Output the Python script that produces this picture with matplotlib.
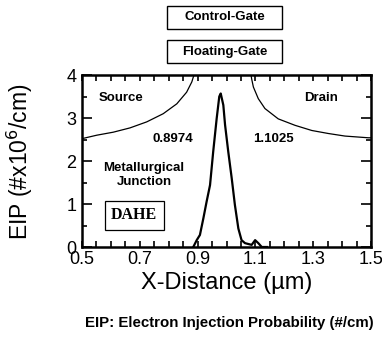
import matplotlib
matplotlib.use("Agg")
import matplotlib.pyplot as plt
from matplotlib.patches import Rectangle
from matplotlib.ticker import MultipleLocator, FixedLocator

plt.rcParams['font.family'] = ['Liberation Sans', 'DejaVu Sans']

# EIP peak curve
eip_x = [0.885, 0.897, 0.908, 0.92, 0.931, 0.943, 0.954, 0.966, 0.975, 0.980,
         0.989, 0.995, 1.006, 1.018, 1.029, 1.041, 1.052, 1.064, 1.087, 1.099,
         1.110, 1.122, 1.14]
eip_y = [0.0, 0.16, 0.28, 0.67, 1.05, 1.44, 2.22, 2.99, 3.50, 3.57,
         3.30, 2.84, 2.22, 1.60, 0.98, 0.43, 0.16, 0.09, 0.05, 0.16,
         0.09, 0.0, 0.0]

# Source / drain junction contours
src_x = [0.5, 0.551, 0.608, 0.666, 0.724, 0.781, 0.828, 0.862, 0.880, 0.885, 0.888]
src_y = [2.52, 2.60, 2.67, 2.77, 2.91, 3.10, 3.33, 3.60, 3.84, 3.95, 4.0]
drn_x = [1.085, 1.087, 1.093, 1.110, 1.133, 1.179, 1.237, 1.295, 1.352, 1.410, 1.491, 1.5]
drn_y = [4.0, 3.91, 3.72, 3.45, 3.22, 2.98, 2.83, 2.71, 2.64, 2.58, 2.54, 2.54]

xticks = [0.5, 0.7, 0.9, 1.1, 1.3, 1.5]
xticklabels = ['0.5', '0.7', '0.9', '1.1', '1.3', '1.5']
yticks = [0, 1, 2, 3, 4]

fig = plt.figure(figsize=(3.82, 3.38), dpi=100)
ax = fig.add_axes([0.2147, 0.2692, 0.7565, 0.5089])

ax.plot(src_x, src_y, color='black', lw=0.9)
ax.plot(drn_x, drn_y, color='black', lw=0.9)
ax.plot(eip_x, eip_y, color='black', lw=1.6)

ax.set_xlim(0.5, 1.5)
ax.set_ylim(0, 4)
ax.xaxis.set_major_locator(FixedLocator(xticks))
ax.set_xticklabels(xticklabels)
ax.xaxis.set_minor_locator(MultipleLocator(0.05))
ax.set_yticks(yticks)
ax.yaxis.set_minor_locator(MultipleLocator(0.5))
ax.tick_params(which='both', direction='in', top=True, right=True, labelsize=13,
               width=1.2)
ax.tick_params(axis='x', which='both', length=4, pad=3)
ax.tick_params(axis='y', which='major', length=7, pad=4)
ax.tick_params(axis='y', which='minor', length=3.5)
for s in ax.spines.values():
    s.set_linewidth(1.8)

ax.set_xlabel('X-Distance (\u00b5m)', fontsize=17)
ax.set_ylabel('EIP (#x10$^6$/cm)', fontsize=16.5)
ax.xaxis.set_label_coords(0.5, -0.145)
ax.yaxis.set_label_coords(-0.163, 0.494)

tb = dict(fontsize=9.5, fontweight='bold', ha='center', va='center')
ax.text(0.635, 3.47, 'Source', **tb)
ax.text(1.327, 3.47, 'Drain', **tb)
ax.text(0.815, 2.51, '0.8974', **tb)
ax.text(1.161, 2.51, '1.1025', **tb)
ax.text(0.715, 1.67, 'Metallurgical\nJunction', linespacing=1.25, **tb)
ax.text(0.68, 0.74, 'DAHE', family='Liberation Serif', fontsize=11.5,
        fontweight='bold', ha='center', va='center',
        bbox=dict(boxstyle='square,pad=0.4', fc='white', ec='black', lw=0.9))

W, H = 382, 338
for (label, y0, y1) in [('Control-Gate', 6, 29), ('Floating-Gate', 40, 63)]:
    x0, x1 = 167, 282
    fig.patches.append(Rectangle((x0 / W, 1 - y1 / H), (x1 - x0) / W, (y1 - y0) / H,
                                 transform=fig.transFigure, fill=False,
                                 ec='black', lw=1.0))
    fig.text((x0 + x1) / 2 / W, 1 - (y0 + y1) / 2 / H, label, fontsize=9.5,
             fontweight='bold', ha='center', va='center')

fig.text(229.5 / W, 1 - 323 / H, 'EIP: Electron Injection Probability (#/cm)',
         fontsize=10.8, fontweight='bold', ha='center', va='center')

fig.savefig('out.png', dpi=100)
